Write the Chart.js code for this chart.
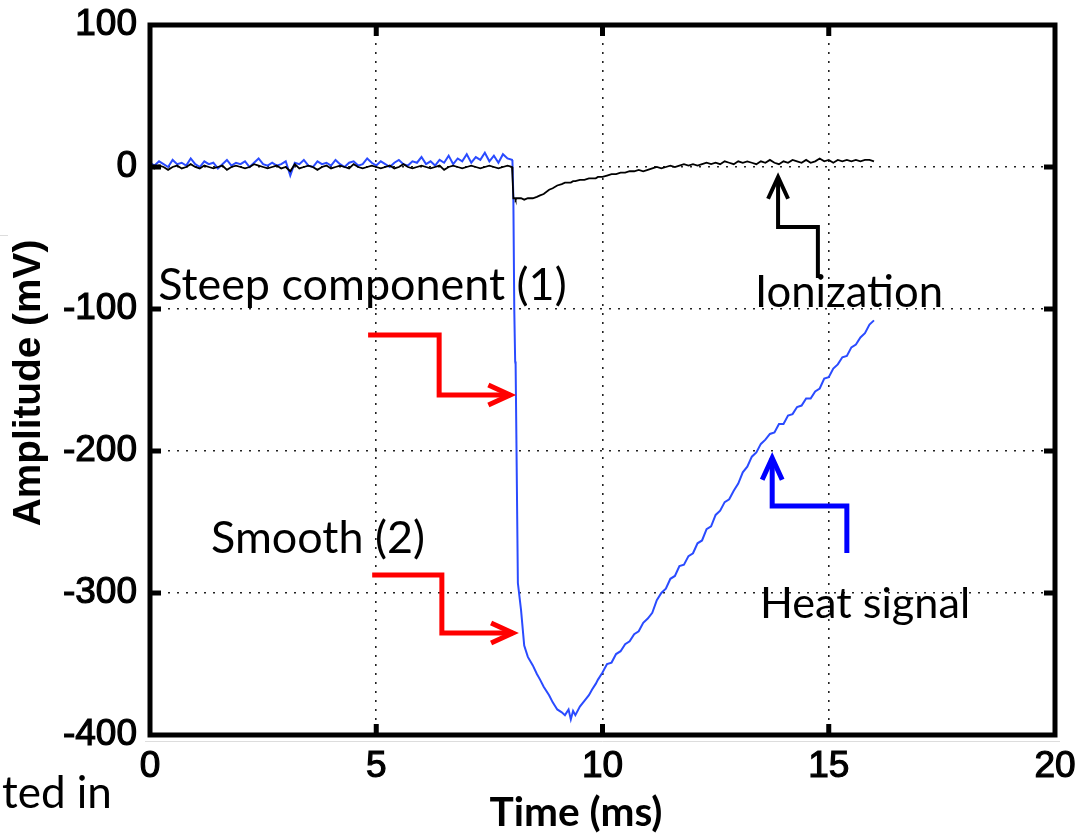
<!DOCTYPE html>
<html>
<head>
<meta charset="utf-8">
<script src="https://cdn.jsdelivr.net/npm/chart.js@4.4.1/dist/chart.umd.min.js"></script>
<style>
html,body{margin:0;padding:0;background:#fff;}
#c{display:block;}
</style>
</head>
<body>
<canvas id="c" width="1079" height="837" style="width:1079px;height:837px"></canvas>
<script>
// ---- Data (time in ms, amplitude in mV) ----
const timeA = [
  0,0.1,0.2,0.3,0.4,0.5,0.6,0.7,0.8,0.9,
  1,1.1,1.2,1.3,1.4,1.5,1.6,1.7,1.8,1.9,
  2,2.1,2.2,2.3,2.4,2.5,2.6,2.7,2.8,2.9,
  3,3.1,3.2,3.3,3.4,3.5,3.6,3.7,3.8,3.9,
  4,4.1,4.2,4.3,4.4,4.5,4.6,4.7,4.8,4.9,
  5,5.1,5.2,5.3,5.4,5.5,5.6,5.7,5.8,5.9,
  6,6.1,6.2,6.3,6.4,6.5,6.6,6.7,6.8,6.9,
  7,7.1,7.2,7.3,7.4,7.5,7.6,7.7,7.8,7.9,
  8
];
const heatA = [
  3,1,4,2,0,5,2,3,1,6,
  2,0,4,2,3,-1,2,5,1,3,
  2,4,0,3,6,2,1,3,1,2,
  4,-6,3,2,5,1,0,4,2,3,
  1,5,2,0,3,4,1,2,6,3,
  1,4,2,0,3,5,2,1,4,3,
  7,2,4,1,5,3,8,2,6,4,
  9,3,7,5,10,4,8,3,9,6,
  5
];
const ionA = [
  0,-1,1,0,-2,0,1,-1,0,2,
  0,-1,1,0,-1,0,1,-2,0,1,
  0,-1,0,2,1,0,-1,0,1,-1,
  0,-3,2,-1,0,1,0,-2,0,1,
  -1,0,1,0,-1,2,0,-1,0,1,
  0,-1,0,1,-1,0,2,0,-1,0,
  1,0,-1,0,1,-2,0,1,0,-1,
  0,1,0,-1,0,1,0,-1,0,1,
  0
];
const timeB = [
  8.01,8.03,8.05,8.07,8.08,8.1,8.13,8.2,8.27,8.35,
  8.46,8.55,8.62,8.7,8.82,8.9,9.0,9.1,9.17,9.25,
  9.3,9.35,9.4,9.5,9.6,9.7,9.77,9.85,9.9,10.0
];
const heatB = [
  4,-22,-100,-137,-139,-200,-293,-312,-337,-345,
  -351,-357,-361,-366,-372,-377,-382,-384,-386,-382,
  -389,-383,-386,-380,-376,-372,-368,-364,-361,-356
];
const ionB = [
  -6,-22,-22,-22,-23,-22,-22,-22,-23,-22,
  -22,-21,-20,-19,-16,-15,-13,-12,-11,-11,
  -11,-10,-10,-9,-9,-8,-8,-8,-7,-7
];
const timeC = [
  10.1,10.2,10.3,10.4,10.5,10.6,10.7,10.8,10.9,11.0,
  11.1,11.2,11.3,11.4,11.5,11.6,11.7,11.8,11.9,12.0,
  12.1,12.2,12.3,12.4,12.5,12.6,12.7,12.8,12.9,13.0,
  13.1,13.2,13.3,13.4,13.5,13.6,13.7,13.8,13.9,14.0,
  14.1,14.2,14.3,14.4,14.5,14.6,14.7,14.8,14.9,15.0,
  15.1,15.2,15.3,15.4,15.5,15.6,15.7,15.8,15.9,16.0
];
const heatC = [
  -350,-349,-343,-341,-336,-334,-329,-327,-321,-318,
  -314,-305,-300,-297,-290,-288,-281,-280,-274,-272,
  -265,-263,-255,-253,-245,-242,-236,-234,-228,-223,
  -215,-211,-204,-201,-195,-192,-188,-187,-181,-181,
  -175,-174,-169,-168,-163,-163,-158,-156,-149,-148,
  -142,-139,-134,-133,-127,-125,-120,-117,-111,-108
];
const ionC = [
  -6,-5,-5,-4,-4,-3,-3,-2,-3,-2,
  -1,0,-1,0,1,0,1,2,1,2,
  1,2,3,2,3,2,4,3,2,4,
  3,4,3,2,4,3,5,3,2,4,
  3,5,4,3,5,3,4,6,4,5,
  3,5,4,5,4,5,4,5,5,4
];
const xTicks = [0, 5, 10, 15, 20];
const yTicks = [100, 0, -100, -200, -300, -400];

// annotation texts and arrow paths (data coordinates)
const notes = [
  {text: 'Steep component (1)', x: 0.18, y: -93.7, w: 409},
  {text: 'Ionization', x: 13.37, y: -98.6, w: 188},
  {text: 'Smooth (2)', x: 1.35, y: -271.8, w: 214},
  {text: 'Heat signal', x: 13.48, y: -317.6, w: 210}
];
const arrowSteep = [[4.82,-118.3],[6.39,-118.3],[6.39,-160.6],[7.96,-160.6]];
const arrowSmooth = [[4.91,-287.3],[6.45,-287.3],[6.45,-328.2],[8.02,-328.2]];
const arrowIon = [[14.76,-78.2],[14.76,-42.3],[13.88,-42.3],[13.88,-7.0]];
const arrowHeat = [[15.40,-271.8],[15.40,-238.7],[13.75,-238.7],[13.75,-204.9]];

function pts(ts, vs){ return ts.map((t,i)=>({x:t, y:vs[i]})); }
const heatPts = pts(timeA, heatA).concat(pts(timeB, heatB), pts(timeC, heatC));
const ionPts = pts(timeA, ionA).concat(pts(timeB, ionB), pts(timeC, ionC));

function fitSize(ctx, text, weight, family, targetW){
  ctx.font = weight + ' 100px ' + family;
  return 100 * targetW / ctx.measureText(text).width;
}

const overlay = {
  id: 'overlay',
  afterDraw(chart){
    const ctx = chart.ctx;
    const sx = chart.scales.x, sy = chart.scales.y;
    const px = v => sx.getPixelForValue(v), py = v => sy.getPixelForValue(v);
    const L = sx.left, R = sx.right, T = sy.top, B = sy.bottom;
    ctx.save();
    // thick box
    ctx.strokeStyle = '#000'; ctx.lineWidth = 5; ctx.lineJoin = 'miter';
    ctx.strokeRect(L, T, R - L, B - T);
    // inner ticks
    ctx.lineWidth = 5;
    ctx.beginPath();
    xTicks.slice(1, -1).forEach(v => {
      const x = px(v);
      ctx.moveTo(x, B); ctx.lineTo(x, B - 11);
      ctx.moveTo(x, T); ctx.lineTo(x, T + 11);
    });
    yTicks.slice(1, -1).forEach(v => {
      const y = py(v);
      ctx.moveTo(L, y); ctx.lineTo(L + 11, y);
      ctx.moveTo(R, y); ctx.lineTo(R - 11, y);
    });
    ctx.stroke();

    // arrows
    function arrow(path, color, lw){
      ctx.strokeStyle = color; ctx.lineWidth = lw; ctx.lineCap = 'butt'; ctx.lineJoin = 'miter';
      const P = path.map(p => [px(p[0]), py(p[1])]);
      ctx.beginPath();
      ctx.moveTo(P[0][0], P[0][1]);
      for (let i = 1; i < P.length; i++) ctx.lineTo(P[i][0], P[i][1]);
      ctx.stroke();
      const a = P[P.length-1], b = P[P.length-2];
      const ang = Math.atan2(a[1]-b[1], a[0]-b[0]);
      const len = 24, spread = 0.43;
      ctx.beginPath();
      ctx.moveTo(a[0] - len*Math.cos(ang - spread), a[1] - len*Math.sin(ang - spread));
      ctx.lineTo(a[0], a[1]);
      ctx.lineTo(a[0] - len*Math.cos(ang + spread), a[1] - len*Math.sin(ang + spread));
      ctx.stroke();
    }
    arrow(arrowSteep, '#ff0000', 5);
    arrow(arrowSmooth, '#ff0000', 5);
    arrow(arrowIon, '#000000', 4);
    arrow(arrowHeat, '#0000ff', 5);

    // annotation texts
    ctx.fillStyle = '#000';
    ctx.textAlign = 'left'; ctx.textBaseline = 'alphabetic';
    const fam = 'Lato, "Open Sans", sans-serif';
    notes.forEach(n => {
      const s = fitSize(ctx, n.text, 'normal', fam, n.w);
      ctx.font = 'normal ' + s.toFixed(1) + 'px ' + fam;
      ctx.fillText(n.text, px(n.x), py(n.y));
    });

    // axis titles
    const yt = 'Amplitude (mV)';
    let s = fitSize(ctx, yt, 'bold', '"Liberation Sans", Arial, sans-serif', 287);
    ctx.save();
    ctx.translate(29, (T + B) / 2 + 3);
    ctx.rotate(-Math.PI / 2);
    ctx.font = 'bold ' + s.toFixed(1) + 'px "Liberation Sans", Arial, sans-serif';
    ctx.textAlign = 'center'; ctx.textBaseline = 'middle';
    ctx.fillText(yt, 0, 0);
    ctx.restore();

    const xt = 'Time (ms)';
    s = fitSize(ctx, xt, 'bold', fam, 173);
    ctx.font = 'bold ' + s.toFixed(1) + 'px ' + fam;
    ctx.textAlign = 'center'; ctx.textBaseline = 'alphabetic';
    ctx.fillText(xt, 576, 826);

    // cropped slide text at bottom-left
    s = fitSize(ctx, 'ted in', 'normal', fam, 110);
    ctx.font = 'normal ' + s.toFixed(1) + 'px ' + fam;
    ctx.textAlign = 'left';
    ctx.fillText('ted in', 2, 808);

    // faint image edges
    ctx.strokeStyle = '#dddddd'; ctx.lineWidth = 1;
    ctx.beginPath();
    ctx.moveTo(145, 741.5); ctx.lineTo(1060, 741.5);
    ctx.moveTo(0, 235.5); ctx.lineTo(8, 235.5);
    ctx.stroke();
    ctx.restore();
  }
};

const tickFont = {family: '"Liberation Sans", Arial, sans-serif', size: 37};

new Chart(document.getElementById('c'), {
  type: 'scatter',
  data: {
    datasets: [
      {label: 'Ionization', data: ionPts, showLine: true, borderColor: '#000000', borderWidth: 1.8,
       pointRadius: 0, tension: 0, order: 0},
      {label: 'Heat signal', data: heatPts, showLine: true, borderColor: '#2a4bff', borderWidth: 2,
       pointRadius: 0, tension: 0, order: 1}
    ]
  },
  options: {
    responsive: false,
    animation: false,
    devicePixelRatio: 1,
    layout: {padding: {top: 25, right: 24, left: 0, bottom: 0}},
    plugins: {legend: {display: false}, tooltip: {enabled: false}},
    scales: {
      x: {
        type: 'linear', min: 0, max: 20,
        afterFit(sc){ sc.height = 102; sc.paddingLeft = 0; sc.paddingRight = 0; },
        afterBuildTicks(sc){ sc.ticks = xTicks.map(v => ({value: v})); },
        ticks: {font: tickFont, color: '#000', padding: 10, maxRotation: 0, autoSkip: false,
                textStrokeColor: '#000', textStrokeWidth: 1.2,
                callback: v => String(v)},
        grid: {color: '#222', lineWidth: 1.6, drawTicks: false},
        border: {display: false, dash: [2, 7]}
      },
      y: {
        type: 'linear', min: -400, max: 100,
        afterFit(sc){ sc.width = 150; sc.paddingTop = 0; sc.paddingBottom = 0; },
        afterBuildTicks(sc){ sc.ticks = yTicks.map(v => ({value: v})); },
        ticks: {font: tickFont, color: '#000', padding: 13, autoSkip: false,
                textStrokeColor: '#000', textStrokeWidth: 1.2,
                callback: v => String(v)},
        grid: {color: '#222', lineWidth: 1.6, drawTicks: false},
        border: {display: false, dash: [2, 7]}
      }
    }
  },
  plugins: [overlay]
});
</script>
</body>
</html>
